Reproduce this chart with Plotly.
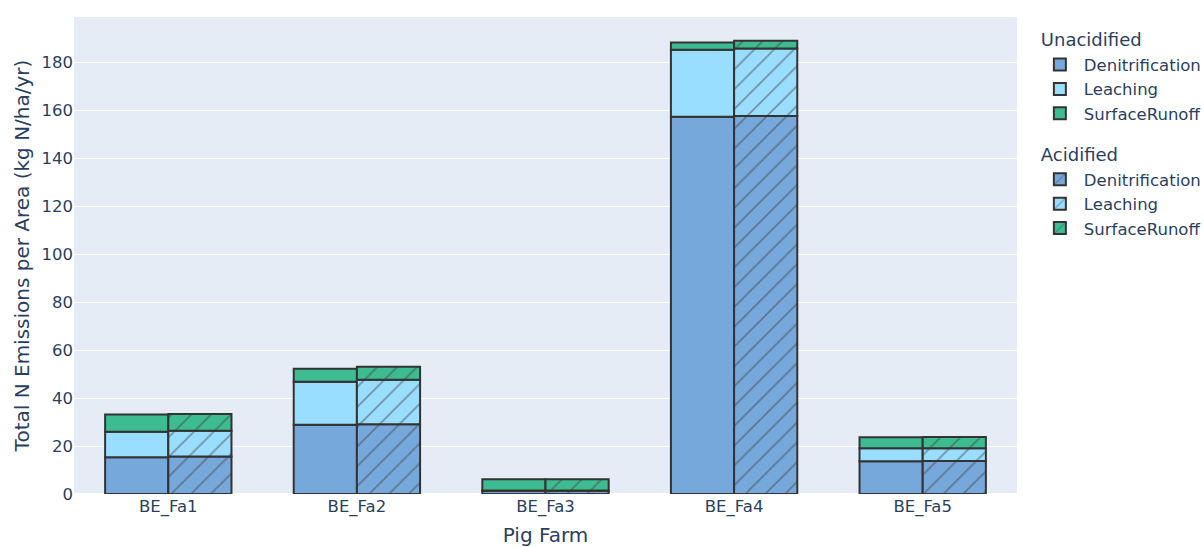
import plotly.graph_objects as go

farms = ["BE_Fa1", "BE_Fa2", "BE_Fa3", "BE_Fa4", "BE_Fa5"]
components = ["Denitrification", "Leaching", "SurfaceRunoff"]

unacid_denit = [15.3, 28.9, 1.2, 157.3, 13.7]
unacid_leach = [10.6, 17.9, 0.3, 27.9, 5.4]
unacid_runoff = [7.2, 5.4, 4.6, 3.0, 4.6]

acid_denit = [15.6, 29.1, 1.2, 157.6, 13.8]
acid_leach = [10.8, 18.5, 0.3, 28.1, 5.3]
acid_runoff = [6.9, 5.4, 4.6, 3.2, 4.7]

colors = {"Denitrification": "#76A8DC", "Leaching": "#9ADEFF", "SurfaceRunoff": "#3DBB91"}

unacid = dict(zip(components, [unacid_denit, unacid_leach, unacid_runoff]))
acid = dict(zip(components, [acid_denit, acid_leach, acid_runoff]))

fig = go.Figure()
for comp in components:
    fig.add_trace(go.Bar(
        x=farms, y=unacid[comp], name=comp, offsetgroup="Unacidified",
        legendgroup="Unacidified", legendgrouptitle_text="Unacidified",
        marker=dict(color=colors[comp], line=dict(color="#333333", width=2)),
    ))
for comp in components:
    fig.add_trace(go.Bar(
        x=farms, y=acid[comp], name=comp, offsetgroup="Acidified",
        legendgroup="Acidified", legendgrouptitle_text="Acidified",
        marker=dict(color=colors[comp], line=dict(color="#333333", width=2),
                    pattern=dict(shape="/", fgcolor="#444444", size=14, solidity=0.12)),
    ))

fig.update_layout(
    barmode="relative",
    bargap=0.33,
    width=1204, height=547,
    font=dict(family="DejaVu Sans, Verdana, sans-serif"),
    margin=dict(l=74, r=187, t=17, b=53, autoexpand=False),
    xaxis=dict(title=dict(text="Pig Farm", font=dict(size=20), standoff=13), tickfont=dict(size=16.5), automargin=False),
    yaxis=dict(title=dict(text="Total N Emissions per Area (kg N/ha/yr)", font=dict(size=20), standoff=6),
               tickfont=dict(size=16.5), automargin=False),
    legend=dict(font=dict(size=16.5), grouptitlefont=dict(size=18), tracegroupgap=15,
                itemwidth=38, x=1.02, y=0.992),
)

fig.write_html("out.html", config={"displayModeBar": False},
               post_script="document.body.style.margin='0';document.body.style.overflow='hidden';")
